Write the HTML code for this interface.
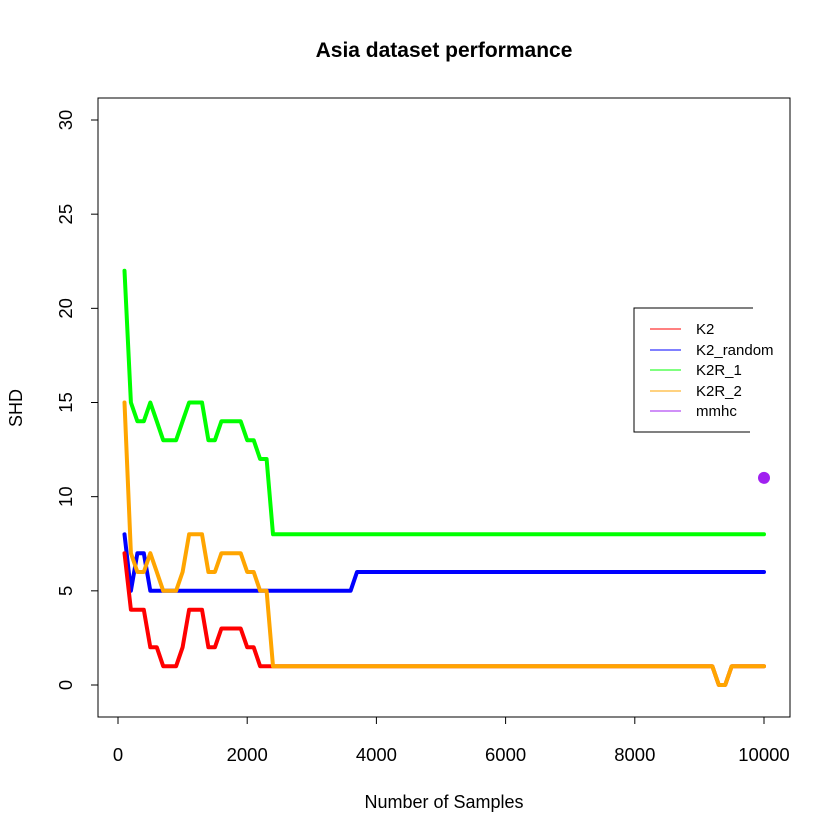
<!DOCTYPE html>
<html><head><meta charset="utf-8"><style>
html,body{margin:0;padding:0;background:#fff}
svg{display:block;font-family:"Liberation Sans",Arial,sans-serif}
</style></head><body>
<svg id="chart" width="840" height="840" viewBox="0 0 840 840">
<text x="444" y="57" font-size="21" font-weight="bold" text-anchor="middle">Asia dataset performance</text>
<rect x="98" y="98" width="692" height="619" fill="none" stroke="#000" stroke-width="1"/>
<g id="xaxis"></g>
<g id="yaxis"></g>
<text x="444" y="808" font-size="18" text-anchor="middle">Number of Samples</text>
<text transform="translate(22,408) rotate(-90)" font-size="18" text-anchor="middle">SHD</text>
<g id="series"></g>
<g>
<path d="M753,308 L634,308 L634,432 L750,432" fill="none" stroke="#000" stroke-width="1"/>
<g><line x1="650" y1="329" x2="681" y2="329" stroke="#ff0000"/><text x="696" y="334" font-size="15">K2</text></g>
<g><line x1="650" y1="350" x2="681" y2="350" stroke="#0000ff"/><text x="696" y="355" font-size="15">K2_random</text></g>
<g><line x1="650" y1="370" x2="681" y2="370" stroke="#00ff00"/><text x="696" y="375" font-size="15">K2R_1</text></g>
<g><line x1="650" y1="391" x2="681" y2="391" stroke="#ffa500"/><text x="696" y="396" font-size="15">K2R_2</text></g>
<g><line x1="650" y1="411" x2="681" y2="411" stroke="#a020f0"/><text x="696" y="416" font-size="15">mmhc</text></g>
</g>
</svg>
<script>
const xTicks = [0, 2000, 4000, 6000, 8000, 10000];
const yTicks = [0, 5, 10, 15, 20, 25, 30];
const headSamples = [100,200,300,400,500,600,700,800,900,1000,1100,1200,1300,1400,1500,1600,1700,1800,1900,2000,2100,2200,2300,2400];
const k2Head =     [7,4,4,4,2,2,1,1,1,2,4,4,4,2,2,3,3,3,3,2,2,1,1,1];
const k2r2Head =   [15,7,6,6,7,6,5,5,5,6,8,8,8,6,6,7,7,7,7,6,6,5,5,1];
const k2r1Head =   [22,15,14,14,15,14,13,13,13,14,15,15,15,13,13,14,14,14,14,13,13,12,12,8];
const blueHead =   [8,5,7,7,5,5,5,5,5,5,5,5,5,5,5,5,5,5,5,5,5,5,5,5];
// tail breakpoints [sample, value]
const k2Tail =   [[9200,1],[9300,0],[9400,0],[9500,1],[10000,1]];
const k2r2Tail = [[9200,1],[9300,0],[9400,0],[9500,1],[10000,1]];
const k2r1Tail = [[10000,8]];
const blueTail = [[3600,5],[3700,6],[10000,6]];
const mmhcPoint = [10000, 11];

const NS="http://www.w3.org/2000/svg";
function sx(v){return 118 + v*(764-118)/10000;}
function sy(v){return 685 - v*(685-120)/30;}
const xa=document.getElementById('xaxis'), ya=document.getElementById('yaxis'), sg=document.getElementById('series');
function mk(tag,attrs,parent){const e=document.createElementNS(NS,tag);for(const k in attrs)e.setAttribute(k,attrs[k]);parent.appendChild(e);return e;}
mk('line',{x1:sx(0),y1:717,x2:sx(10000),y2:717,stroke:'#000'},xa);
xTicks.forEach(t=>{
  const l=mk('line',{x1:sx(t),y1:717,x2:sx(t),y2:724,stroke:'#000'},xa);
  
  
  const tx=mk('text',{x:sx(t),y:761,'font-size':18.5,'text-anchor':'middle'},xa);
  tx.textContent=t;
  
  
});
mk('line',{x1:98,y1:sy(0),x2:98,y2:sy(30),stroke:'#000'},ya);
yTicks.forEach(t=>{
  const l=mk('line',{x1:91,y1:sy(t),x2:98,y2:sy(t),stroke:'#000'},ya);
  
  
  const tx=mk('text',{x:0,y:0,'font-size':18.5,'text-anchor':'middle',transform:`translate(72,${sy(t)}) rotate(-90)`},ya);
  tx.textContent=t;
  
  
});
function draw(head,tail,color,name){
  const pts=head.map((v,i)=>[headSamples[i],v]).concat(tail);
  const p=mk('polyline',{points:pts.map(q=>sx(q[0]).toFixed(1)+','+sy(q[1]).toFixed(1)).join(' '),fill:'none',stroke:color,'stroke-width':4,'stroke-linejoin':'round','stroke-linecap':'round'},sg);
  
  
}
draw(k2r1Head,k2r1Tail,'#00ff00','line-k2r-1');
draw(blueHead,blueTail,'#0000ff','line-k2-random');
draw(k2Head,k2Tail,'#ff0000','line-k2');
draw(k2r2Head,k2r2Tail,'#ffa500','line-k2r-2');
const c=mk('circle',{cx:sx(mmhcPoint[0]),cy:sy(mmhcPoint[1]),r:6,fill:'#a020f0'},sg);


</script>
</body></html>
